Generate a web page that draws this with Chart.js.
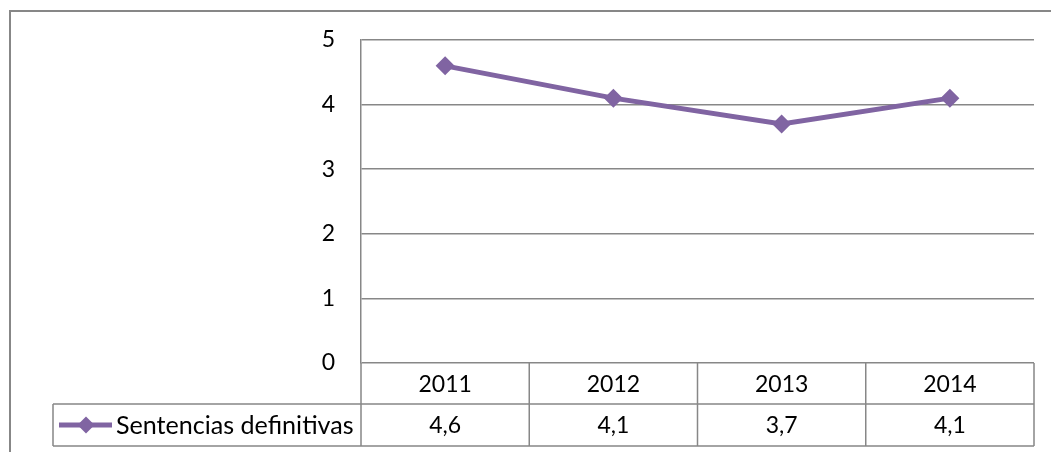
<!DOCTYPE html>
<html>
<head>
<meta charset="utf-8">
<script src="https://cdn.jsdelivr.net/npm/chart.js@4/dist/chart.umd.min.js"></script>
<style>
  html, body { margin: 0; padding: 0; background: #fff; }
  #wrap { width: 1051px; height: 452px; position: relative; }
</style>
</head>
<body>
<div id="wrap"><canvas id="chart" width="1051" height="452"></canvas></div>
<script>
const years = ['2011', '2012', '2013', '2014'];
const sentencias = [4.6, 4.1, 3.7, 4.1];
const serieNombre = 'Sentencias definitivas';
const yTicks = [0, 1, 2, 3, 4, 5];

const morado = '#8064A2';
const gris = '#878787';
const fuente = 'Lato, "Open Sans", sans-serif';
const tamFuente = 23;

function fmtDec(n) {
  return String(n).replace('.', ',');
}

// draws the outer frame and the data table below the axis
const tablaPlugin = {
  id: 'tablaDatos',
  beforeDraw(chart) {
    const ctx = chart.ctx;
    ctx.save();
    ctx.strokeStyle = gris;
    ctx.lineWidth = 2;
    ctx.beginPath();
    ctx.moveTo(10, 452);
    ctx.lineTo(10, 11);
    ctx.lineTo(1051, 11);
    ctx.stroke();
    ctx.restore();
  },
  afterDraw(chart) {
    const ctx = chart.ctx;
    const area = chart.chartArea;
    const x = chart.scales.x;
    const top = area.bottom;
    const mid = top + 41;
    const bot = mid + 42;
    const leyIzq = 53;

    ctx.save();
    ctx.strokeStyle = gris;
    ctx.lineWidth = 1.5;
    ctx.beginPath();
    ctx.moveTo(leyIzq, mid); ctx.lineTo(area.right, mid);
    ctx.moveTo(leyIzq, bot); ctx.lineTo(area.right, bot);
    ctx.moveTo(leyIzq, mid); ctx.lineTo(leyIzq, bot);
    const paso = x.getPixelForValue(1) - x.getPixelForValue(0);
    for (let i = 0; i <= years.length; i++) {
      const px = x.getPixelForValue(0) - paso / 2 + i * paso;
      ctx.moveTo(px, top); ctx.lineTo(px, bot);
    }
    ctx.stroke();

    ctx.fillStyle = '#000';
    ctx.font = tamFuente + 'px ' + fuente;
    ctx.textAlign = 'center';
    ctx.textBaseline = 'middle';
    years.forEach((y, i) => {
      const px = x.getPixelForValue(i);
      ctx.fillText(y, px, (top + mid) / 2 + 1);
      ctx.fillText(fmtDec(sentencias[i]), px, (mid + bot) / 2 + 1);
    });

    // legend key
    const ly = (mid + bot) / 2;
    ctx.strokeStyle = morado;
    ctx.lineWidth = 5;
    ctx.beginPath();
    ctx.moveTo(59, ly); ctx.lineTo(112, ly);
    ctx.stroke();
    ctx.fillStyle = morado;
    ctx.beginPath();
    ctx.moveTo(86, ly - 8.5); ctx.lineTo(94.5, ly); ctx.lineTo(86, ly + 8.5); ctx.lineTo(77.5, ly);
    ctx.closePath();
    ctx.fill();

    ctx.fillStyle = '#000';
    ctx.textAlign = 'left';
    ctx.font = tamFuente + 'px ' + fuente;
    const ancho = ctx.measureText(serieNombre).width;
    const size = tamFuente * 238 / ancho;
    ctx.font = size.toFixed(1) + 'px ' + fuente;
    ctx.fillText(serieNombre, 116, ly + 1);
    ctx.restore();
  }
};

new Chart(document.getElementById('chart'), {
  type: 'line',
  data: {
    labels: years,
    datasets: [{
      label: serieNombre,
      data: sentencias,
      borderColor: morado,
      backgroundColor: morado,
      borderWidth: 5,
      pointStyle: 'rectRot',
      pointRadius: 9.5,
      pointHoverRadius: 9.5,
      pointBackgroundColor: morado,
      pointBorderWidth: 0,
      tension: 0
    }]
  },
  options: {
    responsive: false,
    animation: false,
    events: [],
    layout: { padding: { left: 10, right: 17, top: 40, bottom: 89 } },
    plugins: { legend: { display: false }, tooltip: { enabled: false } },
    scales: {
      x: {
        display: false,
        offset: true
      },
      y: {
        min: 0,
        max: 5,
        afterFit(scale) { scale.width = 351; },
        afterBuildTicks(scale) { scale.ticks = yTicks.map(v => ({ value: v })); },
        border: { display: true, color: gris, width: 1.5 },
        grid: { color: gris, lineWidth: 1.5, drawTicks: false },
        ticks: {
          padding: 26,
          color: '#000',
          font: { family: fuente, size: tamFuente }
        }
      }
    }
  },
  plugins: [tablaPlugin]
});
</script>
</body>
</html>
